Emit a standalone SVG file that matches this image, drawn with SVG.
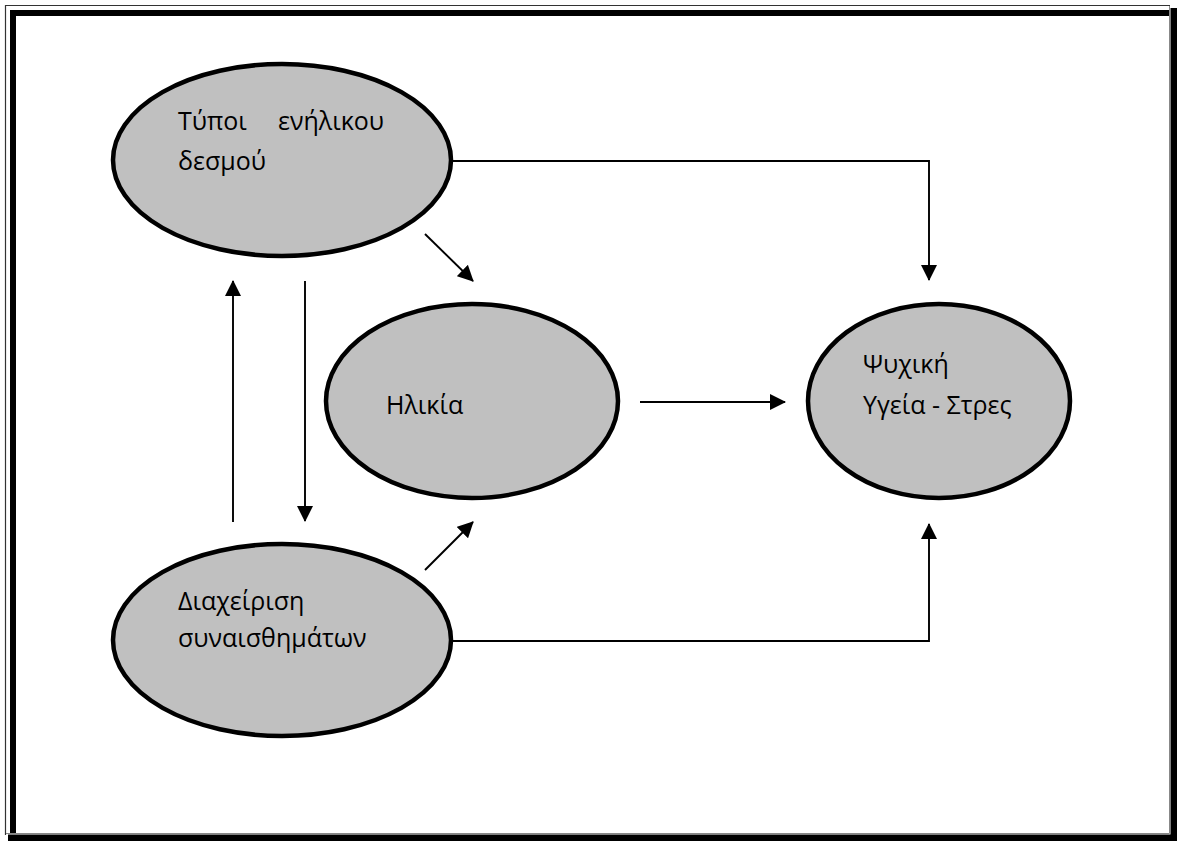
<svg xmlns="http://www.w3.org/2000/svg" width="1177" height="841" viewBox="0 0 1177 841">
  <style>
    .node ellipse { fill: #c0c0c0; stroke: #000; stroke-width: 4.5; }
    .node text { font-family: "Open Sans", "Noto Sans", sans-serif; font-size: 25px; fill: #000; }
    .conn line, .conn polyline { stroke: #000; stroke-width: 1.9; fill: none; }
  </style>
  <defs>
    <marker id="arrow" viewBox="0 0 16 16" refX="15" refY="8" markerWidth="16" markerHeight="16" markerUnits="userSpaceOnUse" orient="auto">
      <path d="M0,0 L16,8 L0,16 Z" fill="#000"/>
    </marker>
  </defs>

  <rect width="1177" height="841" fill="#fff"/>

  <!-- page border: thin/thick double frame -->
  <g id="frame" fill="none">
    <path d="M5.5,835 L5.5,5.5 L1170,5.5" stroke="#333" stroke-width="1.2"/>
    <path d="M13,834 L13,13 L1170,13" stroke="#000" stroke-width="6"/>
    <path d="M1169.5,6 L1169.5,833.5 L6,833.5" stroke="#888" stroke-width="1"/>
    <path d="M1174,8 L1174,838 L8,838" stroke="#000" stroke-width="7"/>
  </g>

  <g id="node-attachment" class="node">
    <ellipse cx="282" cy="160" rx="169" ry="96"/>
    <text x="178" y="130">Τύποι</text>
    <text x="278" y="130">ενήλικου</text>
    <text x="178" y="170">δεσμού</text>
  </g>

  <g id="node-age" class="node">
    <ellipse cx="472" cy="401" rx="146" ry="97"/>
    <text x="386" y="414">Ηλικία</text>
  </g>

  <g id="node-emotions" class="node">
    <ellipse cx="282" cy="640" rx="169" ry="96"/>
    <text x="178" y="610">Διαχείριση</text>
    <text x="178" y="647">συναισθημάτων</text>
  </g>

  <g id="node-health" class="node">
    <ellipse cx="939" cy="401" rx="131" ry="97"/>
    <text x="863" y="373">Ψυχική</text>
    <text x="863" y="414">Υγεία - Στρες</text>
  </g>

  <g id="connectors" class="conn">
    <polyline points="452,161 929,161 929,280" marker-end="url(#arrow)"/>
    <line x1="425" y1="234" x2="473" y2="281" marker-end="url(#arrow)"/>
    <line x1="233" y1="522" x2="233" y2="281" marker-end="url(#arrow)"/>
    <line x1="305" y1="281" x2="305" y2="521" marker-end="url(#arrow)"/>
    <line x1="425" y1="570" x2="473" y2="522" marker-end="url(#arrow)"/>
    <line x1="640" y1="402" x2="785" y2="402" stroke-width="2.2" marker-end="url(#arrow)"/>
    <polyline points="452,641 929,641 929,524" marker-end="url(#arrow)"/>
  </g>
</svg>
